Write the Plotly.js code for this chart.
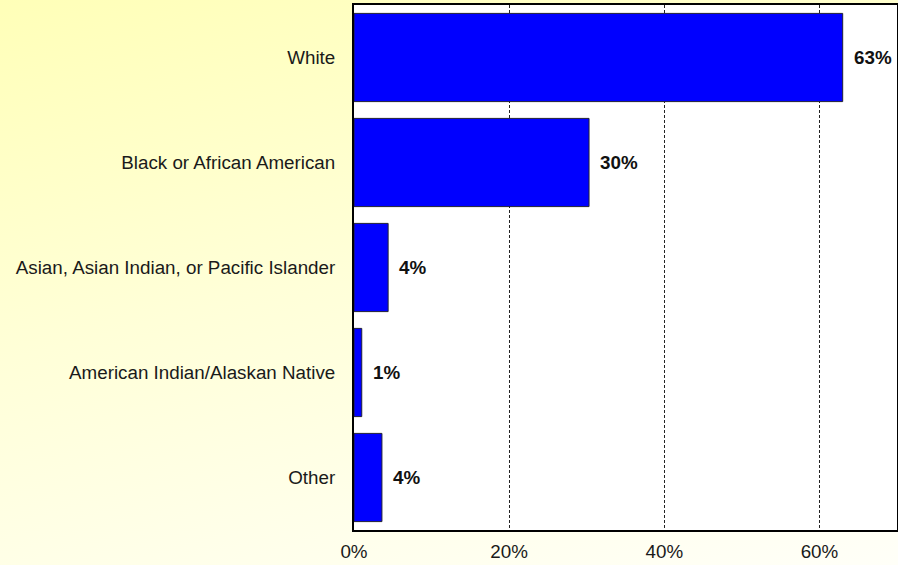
<!DOCTYPE html>
<html>
<head>
<meta charset="utf-8">
<script src="https://cdn.plot.ly/plotly-3.0.1.min.js"></script>
<style>
html,body{margin:0;padding:0;}
body{width:898px;height:565px;background:linear-gradient(165deg,#ffffb8 0%,#ffffd8 45%,#fffff8 100%);}
#chart{width:898px;height:565px;}
</style>
</head>
<body>
<div id="chart"></div>
<script>
var categories = ["White", "Black or African American", "Asian, Asian Indian, or Pacific Islander", "American Indian/Alaskan Native", "Other"];
var values = [63.0, 30.3, 4.4, 1.0, 3.6];
var valueLabels = ["63%", "30%", "4%", "1%", "4%"];
var tickVals = [0, 20, 40, 60];
var tickText = ["0%", "20%", "40%", "60%"];

var FONT = "Liberation Sans, Arial, sans-serif";

var trace = {
  type: "bar",
  orientation: "h",
  y: categories,
  x: values,
  marker: {color: "#0000ff", line: {color: "#222233", width: 1}},
  hoverinfo: "none"
};

var annotations = categories.map(function (c, i) {
  return {
    x: values[i], y: c, xref: "x", yref: "y",
    text: "<b>" + valueLabels[i] + "</b>",
    showarrow: false, xanchor: "left", yanchor: "middle",
    xshift: 9,
    font: {family: FONT, size: 18.8, color: "#111"}
  };
});

var layout = {
  width: 898, height: 565,
  margin: {l: 354, r: 1, t: 5, b: 35},
  paper_bgcolor: "rgba(0,0,0,0)",
  plot_bgcolor: "#ffffff",
  bargap: 0.16,
  showlegend: false,
  font: {family: FONT, size: 18.8, color: "#1a1a1a"},
  annotations: annotations,
  xaxis: {
    range: [0, 70],
    tickvals: tickVals,
    ticktext: tickText,
    showgrid: true,
    gridcolor: "#222",
    griddash: "3px,2px",
    gridwidth: 1,
    zeroline: false,
    showline: true,
    linecolor: "#000",
    linewidth: 2,
    mirror: true,
    ticks: "",
    ticklabelstandoff: 3,
    fixedrange: true
  },
  yaxis: {
    autorange: "reversed",
    showline: true,
    linecolor: "#000",
    linewidth: 2,
    mirror: true,
    ticks: "",
    ticklabelstandoff: 13,
    showgrid: false,
    fixedrange: true
  }
};

Plotly.newPlot("chart", [trace], layout, {displayModeBar: false, staticPlot: true});
</script>
</body>
</html>
